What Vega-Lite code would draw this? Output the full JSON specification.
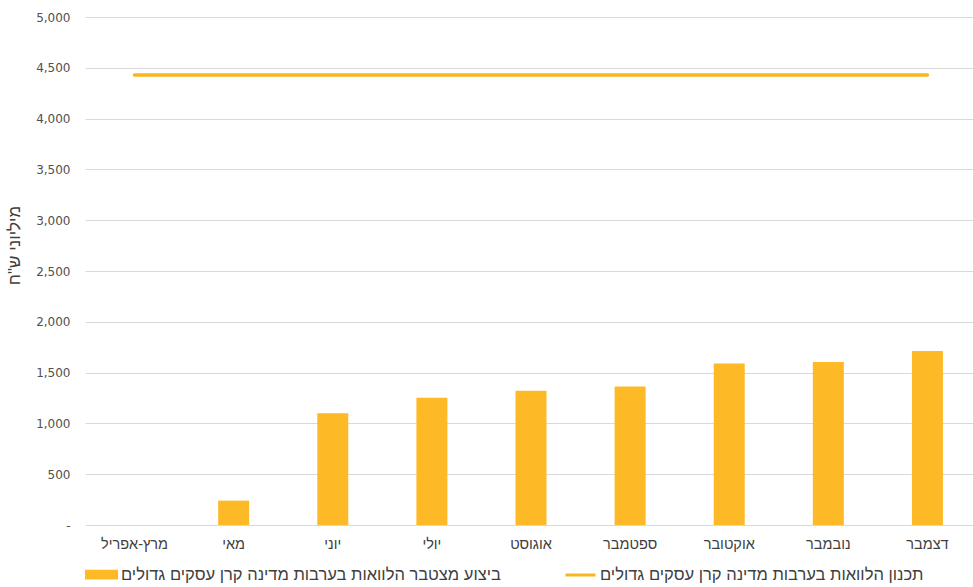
{
  "$schema": "https://vega.github.io/schema/vega-lite/v6.json",
  "width": 892,
  "height": 508,
  "autosize": "none",
  "padding": {"left": 85, "top": 17, "right": 0, "bottom": 62},
  "background": "white",
  "config": {
    "view": {"stroke": null},
    "font": "Liberation Sans"
  },
  "data": {
    "values": [
      {"month": "מרץ-אפריל", "actual": 0, "plan": 4430},
      {"month": "מאי", "actual": 240, "plan": 4430},
      {"month": "יוני", "actual": 1100, "plan": 4430},
      {"month": "יולי", "actual": 1252, "plan": 4430},
      {"month": "אוגוסט", "actual": 1322, "plan": 4430},
      {"month": "ספטמבר", "actual": 1362, "plan": 4430},
      {"month": "אוקטובר", "actual": 1590, "plan": 4430},
      {"month": "נובמבר", "actual": 1605, "plan": 4430},
      {"month": "דצמבר", "actual": 1712, "plan": 4430}
    ]
  },
  "encoding": {
    "x": {
      "field": "month",
      "type": "nominal",
      "sort": null,
      "scale": {"paddingInner": 0, "paddingOuter": 0},
      "axis": {
        "title": null,
        "labelAngle": 0,
        "domain": false,
        "ticks": false,
        "labelPadding": 12,
        "labelFontSize": 14.5,
        "labelColor": "#404040",
        "labelFont": "Liberation Sans"
      }
    }
  },
  "layer": [
    {
      "mark": {"type": "bar", "width": 31},
      "encoding": {
        "y": {
          "field": "actual",
          "type": "quantitative",
          "scale": {"domain": [0, 5000], "nice": false},
          "axis": {
            "values": [0, 500, 1000, 1500, 2000, 2500, 3000, 3500, 4000, 4500, 5000],
            "labelExpr": "datum.value === 0 ? '-' : format(datum.value, ',')",
            "domain": false,
            "ticks": false,
            "labelPadding": 15,
            "labelFont": "DejaVu Sans",
            "labelFontSize": 12,
            "labelColor": "#505050",
            "gridColor": "#d9d9d9",
            "gridWidth": 1,
            "title": "מיליוני ש\"ח",
            "titleFont": "Liberation Sans",
            "titleFontSize": 17,
            "titleFontWeight": "normal",
            "titleColor": "#404040",
            "titleX": -62,
            "titleY": 228
          }
        },
        "color": {
          "datum": "ביצוע מצטבר הלוואות בערבות מדינה קרן עסקים גדולים",
          "type": "nominal",
          "scale": {
            "domain": [
              "ביצוע מצטבר הלוואות בערבות מדינה קרן עסקים גדולים",
              "תכנון הלוואות בערבות מדינה קרן עסקים גדולים"
            ],
            "range": ["#FDBA26", "#F9B61F"]
          },
          "legend": {
            "orient": "none",
            "legendX": 0,
            "legendY": 541,
            "direction": "horizontal",
            "title": null,
            "labelFont": "Liberation Sans",
            "labelFontSize": 16.5,
            "labelColor": "#404040",
            "labelLimit": 600,
            "labelOffset": 3,
            "columnPadding": 58,
            "symbolSize": 900,
            "symbolStrokeWidth": 3,
            "encode": {
              "symbols": {
                "update": {
                  "shape": {"signal": "indexof(datum.value, 'תכנון') === 0 ? 'M-1,0H1' : 'M-1,-0.22H1V0.22H-1Z'"},
                  "fill": {"signal": "indexof(datum.value, 'תכנון') === 0 ? 'transparent' : '#FDBA26'"},
                  "stroke": {"signal": "indexof(datum.value, 'תכנון') === 0 ? '#F9B61F' : 'transparent'"},
                  "strokeWidth": {"value": 3},
                  "opacity": {"value": 1}
                }
              }
            }
          }
        }
      }
    },
    {
      "mark": {"type": "line", "strokeWidth": 3.5, "strokeCap": "round"},
      "encoding": {
        "y": {"field": "plan", "type": "quantitative"},
        "color": {
          "datum": "תכנון הלוואות בערבות מדינה קרן עסקים גדולים",
          "type": "nominal"
        }
      }
    }
  ]
}
